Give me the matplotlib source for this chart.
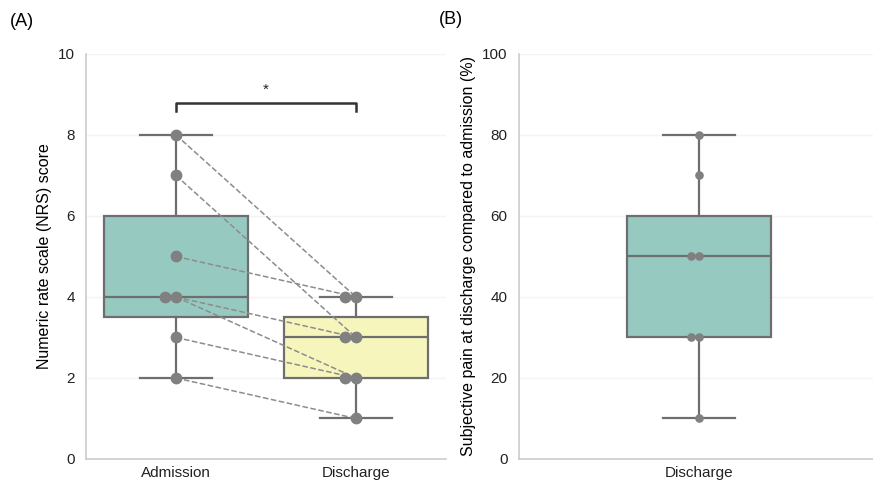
import numpy as np
import matplotlib.pyplot as plt
import seaborn as sns

plt.rcParams['font.family'] = ['Liberation Sans', 'DejaVu Sans']

# panel A: paired NRS scores (admission -> discharge)
groups = ['Admission', 'Discharge']
nrs_admission = [8, 7, 5, 4, 4, 3, 2]
nrs_discharge = [4, 3, 4, 3, 2, 2, 1]

# panel B: subjective pain at discharge vs admission (%)
pain_label = ['Discharge']
pain_pct = [80, 70, 50, 50, 30, 30, 10]

teal = sns.desaturate('#8dd3c7', 0.75)
yellow = sns.desaturate('#ffffb3', 0.75)
edge = '#6e6e6e'
dot = '#808080'
grid_c = '#f4f4f4'
spine_c = '#cccccc'


def stack_offsets(vals, step):
    # place repeated values side by side, leftwards from the centre
    seen = {}
    out = []
    for v in vals:
        k = seen.get(v, 0)
        out.append(-k * step)
        seen[v] = k + 1
    return np.array(out)


def draw_box(ax, data, pos, width, color):
    ax.boxplot([data], positions=[pos], widths=width, patch_artist=True,
               showfliers=False, whis=1.5,
               boxprops=dict(facecolor=color, edgecolor=edge, linewidth=1.6),
               medianprops=dict(color=edge, linewidth=1.6),
               whiskerprops=dict(color=edge, linewidth=1.6),
               capprops=dict(color=edge, linewidth=1.6),
               capwidths=width / 2, zorder=2)


def style_axis(ax):
    for s in ['top', 'right']:
        ax.spines[s].set_visible(False)
    for s in ['left', 'bottom']:
        ax.spines[s].set_color(spine_c)
        ax.spines[s].set_linewidth(1.2)
    ax.tick_params(length=0, labelsize=11, colors='#222222')
    ax.tick_params(axis='y', pad=8)
    ax.tick_params(axis='x', pad=5)
    ax.yaxis.grid(True, color=grid_c, linewidth=1)
    ax.set_axisbelow(True)


fig = plt.figure(figsize=(8.73, 4.83), dpi=100)
axA = fig.add_axes([0.0985, 0.0497, 0.4124, 0.8385])
axB = fig.add_axes([0.594, 0.0497, 0.4124, 0.8385])

# --- panel A ---
draw_box(axA, nrs_admission, 0, 0.8, teal)
draw_box(axA, nrs_discharge, 1, 0.8, yellow)
for a, d in zip(nrs_admission, nrs_discharge):
    axA.plot([0, 1], [a, d], ls='--', color='#8c8c8c', lw=1.1, zorder=3)
xa = 0 + stack_offsets(nrs_admission, 0.062)
xd = 1 + stack_offsets(nrs_discharge, 0.062)
axA.plot(xa, nrs_admission, 'o', color=dot, ms=7.5, zorder=4)
axA.plot(xd, nrs_discharge, 'o', color=dot, ms=7.5, zorder=4)

# significance bracket
axA.plot([0, 0, 1, 1], [8.6, 8.8, 8.8, 8.6], color='#333333', lw=1.8, zorder=3)
axA.text(0.5, 8.95, '*', ha='center', va='bottom', fontsize=11, color='#222222')

axA.set_xlim(-0.5, 1.5)
axA.set_ylim(0, 10)
axA.set_yticks([0, 2, 4, 6, 8, 10])
axA.set_xticks([0, 1])
axA.set_xticklabels(groups)
axA.set_ylabel('Numeric rate scale (NRS) score', fontsize=11.5, labelpad=4)
style_axis(axA)

# --- panel B ---
draw_box(axB, pain_pct, 0, 0.4, teal)
xb = stack_offsets(pain_pct, 0.021)
axB.plot(xb, pain_pct, 'o', color=dot, ms=5.2, zorder=4)
axB.set_xlim(-0.5, 0.5)
axB.set_ylim(0, 100)
axB.set_yticks([0, 20, 40, 60, 80, 100])
axB.set_xticks([0])
axB.set_xticklabels(pain_label)
axB.set_ylabel('Subjective pain at discharge compared to admission (%)',
               fontsize=11.5, labelpad=4)
style_axis(axB)

fig.text(0.011, 0.955, '(A)', fontsize=13, va='center', ha='left')
fig.text(0.503, 0.96, '(B)', fontsize=13, va='center', ha='left')

fig.savefig('out.png', dpi=100)
